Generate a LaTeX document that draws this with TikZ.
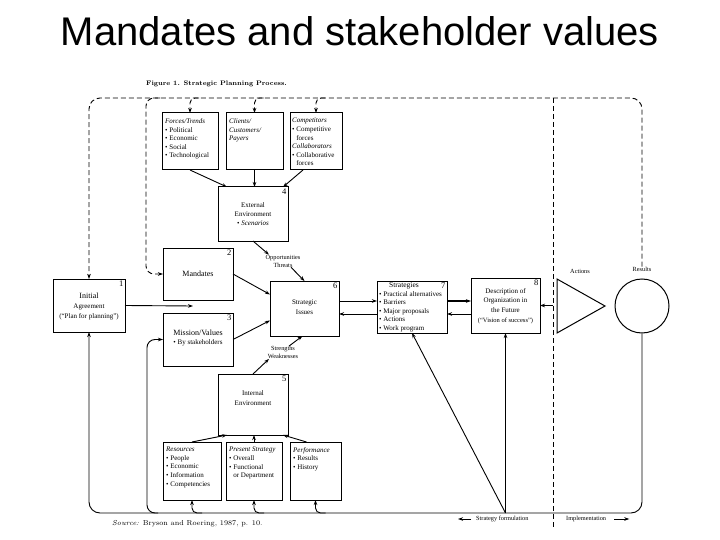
\documentclass[tikz,border=0pt]{standalone}
\usepackage{fontspec}
\newfontfamily\titlefont{Liberation Sans}
\newfontfamily\figserif{Liberation Serif}
\usetikzlibrary{arrows.meta,calc}
\begin{document}
\begin{tikzpicture}[x=1pt,y=-1pt,
  box/.style={draw,line width=1pt,inner sep=0pt,outer sep=0pt,anchor=north west},
  txt/.style={inner sep=0pt,align=left,anchor=north west,font=\figserif\fontsize{7}{8.6}\selectfont},
  ctxt/.style={inner sep=0pt,align=center,font=\figserif\fontsize{7}{9.5}\selectfont},
  num/.style={inner sep=1.5pt,anchor=north east,font=\figserif\fontsize{8.5}{8.5}\selectfont},
  lbl/.style={inner sep=0pt,align=center,font=\figserif\fontsize{6.3}{8}\selectfont},
  line/.style={line width=0.9pt},
  arr/.style={line width=0.9pt,-{Stealth[length=5pt,width=3.5pt]}},
  dsh/.style={line width=0.9pt,dash pattern=on 5pt off 3pt}]
\useasboundingbox (0,0) rectangle (720,540);
\fill[white] (0,0) rectangle (720,540);

% title
\node[anchor=base,inner sep=0pt,font=\titlefont\fontsize{40}{48}\selectfont] (title) at (360,46) {Mandates and stakeholder values};

\node[anchor=base west,inner sep=0pt,font=\bfseries\fontsize{6.6}{8}\selectfont] (fig) at (146,86) {Figure 1. Strategic Planning Process.};
\node[anchor=base west,inner sep=0pt,font=\fontsize{7.2}{8}\selectfont] (src) at (112,525) {\textit{Source:} Bryson and Roering, 1987, p. 10.};

% top boxes
\node[box,minimum width=56,minimum height=57] (ft) at (162,113) {};
\node[txt] (ftt) at (165,118.5) {\textit{Forces/Trends}\\\textbullet\ Political\\\textbullet\ Economic\\\textbullet\ Social\\\textbullet\ Technological};
\node[box,minimum width=57,minimum height=57] (cl) at (226,113) {};
\node[txt] (clt) at (229,118.5) {\textit{Clients/}\\\textit{Customers/}\\\textit{Payers}};
\node[box,minimum width=52,minimum height=57] (co) at (290,113) {};
\node[txt] (cot) at (292,118) {\textit{Competitors}\\\textbullet\ Competitive\\\phantom{\textbullet\ }forces\\\textit{Collaborators}\\\textbullet\ Collaborative\\\phantom{\textbullet\ }forces};

% external environment
\node[box,minimum width=70,minimum height=54] (ee) at (218,187) {};
\node[ctxt,font=\figserif\fontsize{7}{9}\selectfont] (eet) at (253,214) {External\\Environment\\\textbullet\ \textit{Scenarios}};
\node[num] (n4) at (ee.north east) {4};

% mandates
\node[box,minimum width=70,minimum height=52] (md) at (163,248) {};
\node[ctxt,font=\figserif\fontsize{8}{9}\selectfont] (mdt) at (md.center) {Mandates};
\node[num] (n2) at (md.north east) {2};

% mission
\node[box,minimum width=70,minimum height=53] (mv) at (163,313) {};
\node[ctxt] (mvt) at (198,338) {{\fontsize{8}{10}\selectfont Mission/Values}\\\textbullet\ By stakeholders};
\node[num] (n3) at (mv.north east) {3};

% initial agreement
\node[box,minimum width=72,minimum height=53] (ia) at (53,279) {};
\node[ctxt,font=\figserif\fontsize{7}{10}\selectfont] (iat) at (89,306) {{\fontsize{8}{10}\selectfont Initial}\\Agreement\\(“Plan for planning”)};
\node[num] (n1) at (ia.north east) {1};

% strategic issues
\node[box,minimum width=69,minimum height=55] (si) at (270,281) {};
\node[ctxt,font=\figserif\fontsize{7}{10}\selectfont] (sit) at (304.5,307.5) {Strategic\\Issues};
\node[num] (n6) at (si.north east) {6};

% internal environment
\node[box,minimum width=70,minimum height=61] (ie) at (218,374) {};
\node[ctxt,font=\figserif\fontsize{7}{10}\selectfont] (iet) at (253,398.5) {Internal\\Environment};
\node[num] (n5) at (ie.north east) {5};

% bottom boxes
\node[box,minimum width=58,minimum height=58] (rs) at (163,442) {};
\node[txt] (rst) at (166,447) {\textit{Resources}\\\textbullet\ People\\\textbullet\ Economic\\\textbullet\ Information\\\textbullet\ Competencies};
\node[box,minimum width=56,minimum height=58] (ps) at (226,442) {};
\node[txt] (pst) at (229,447) {\textit{Present Strategy}\\\textbullet\ Overall\\\textbullet\ Functional\\\phantom{\textbullet\ }or Department};
\node[box,minimum width=51,minimum height=58] (pf) at (290,442) {};
\node[txt] (pft) at (293,447) {\textit{Performance}\\\textbullet\ Results\\\textbullet\ History};

% strategies
\node[box,minimum width=70,minimum height=52] (st) at (377,281) {};
\node[inner sep=0pt,anchor=north,font=\figserif\fontsize{7.5}{8}\selectfont] (stt) at (404,282) {Strategies};
\node[txt,font=\figserif\fontsize{7}{8.5}\selectfont] (stl) at (379,291) {\textbullet\ Practical alternatives\\\textbullet\ Barriers\\\textbullet\ Major proposals\\\textbullet\ Actions\\\textbullet\ Work program};
\node[num] (n7) at (st.north east) {7};

% description of organization
\node[box,minimum width=69,minimum height=55] (df) at (471,278) {};
\node[ctxt,font=\figserif\fontsize{7}{9.7}\selectfont] (dft) at (505.5,306) {Description of\\Organization in\\the Future\\{\fontsize{6.5}{8}\selectfont (“Vision of success”)}};
\node[num] (n8) at (df.north east) {8};

% actions and results
\draw[line width=1pt] (557,279) -- (605,306) -- (557,333) -- cycle;
\node[draw,circle,line width=1pt,minimum size=54,inner sep=0pt] (res) at (642,306) {};

% labels
\node[lbl] (ot) at (283,261) {Opportunities\\Threats};
\node[lbl] (sw) at (283,352.5) {Strengths\\Weaknesses};
\node[lbl] (actl) at (580,271) {Actions};
\node[lbl] (resl) at (642,269) {Results};
\node[lbl,anchor=west] (sfl) at (476,519) {Strategy formulation};
\node[lbl,anchor=west] (iml) at (566,519) {Implementation};

% coordinates
\coordinate (ytop) at (0,98);
\coordinate (ybot) at (0,513);
\coordinate (sepT) at (553,98);
\coordinate (sepB) at (553,527);
\coordinate (jmd) at (160,98);
\coordinate (gap) at (193,306);
\coordinate (ya) at (0,301);
\coordinate (yb) at (0,314);
\coordinate (jb) at (df.south |- ybot);

% dashed feedback
\draw[dsh,rounded corners=11,-{Stealth[length=5pt,width=3.5pt]}] (resl.north) |- (ia.north |- ytop) -- (ia.north);
\draw[dsh,rounded corners=8,-{Stealth[length=5pt,width=3.5pt]}] (jmd) -| ($(md.west)+(-17,0)$) -- (md.west);
\draw[dsh,rounded corners=5,-{Stealth[length=5pt,width=3.5pt]}] ($(ft.north |- ytop)+(9,0)$) -| (ft.north);
\draw[dsh,rounded corners=5,-{Stealth[length=5pt,width=3.5pt]}] ($(cl.north |- ytop)+(9,0)$) -| (cl.north);
\draw[dsh,rounded corners=5,-{Stealth[length=5pt,width=3.5pt]}] ($(co.north |- ytop)+(9,0)$) -| (co.north);
\draw[dsh] (sepT) -- (sepB);
\draw[arr] (sepT |- df.east) -- (df.east);

% solid feedback
\draw[line,rounded corners=11,-{Stealth[length=5pt,width=3.5pt]}] (res.south) |- (ia.south |- ybot) -- (ia.south);
\draw[line,rounded corners=8,-{Stealth[length=5pt,width=3.5pt]}] ($(mv.west |- ybot)+(-5,0)$) -| ($(mv.west)+(-16,0)$) -- (mv.west);
\draw[line,rounded corners=5,-{Stealth[length=5pt,width=3.5pt]}] ($(rs.south |- ybot)+(10,0)$) -| (rs.south);
\draw[line,rounded corners=5,-{Stealth[length=5pt,width=3.5pt]}] ($(ps.south |- ybot)+(10,0)$) -| (ps.south);
\draw[line,rounded corners=5,-{Stealth[length=5pt,width=3.5pt]}] ($(pf.south |- ybot)+(10,0)$) -| (pf.south);

% into internal/external environment
\draw[arr] (rs.north) -- ($(ie.south west)+(9,0)$);
\draw[arr] (ps.north) -- (ps.north |- ie.south);
\draw[arr] ($(pf.north)+(-9,0)$) -- ($(ie.south east)+(-5,0)$);
\draw[arr] (ft.south) -- ($(ee.north west)+(9,0)$);
\draw[arr] (cl.south) -- (cl.south |- ee.north);
\draw[arr] ($(co.south)+(-13,0)$) -- ($(ee.north east)+(-5,0)$);

% to strategic issues
\draw[arr] (ee.south) -- ($(ot.north)+(-14,0)$);
\draw[arr] ($(ot.south)+(8,0)$) -- (si.north);
\draw[arr] (ie.north) -- ($(sw.south)+(-14,0)$);
\draw[arr] ($(sw.north)+(6,0)$) -- ($(si.south)+(-2,0)$);
\draw[arr] (md.east) -- ($(si.west)+(0,-14)$);
\draw[arr] (mv.east) -- ($(si.west)+(0,12)$);
\draw[arr] (ia.east) -- (gap);

% issues <-> strategies <-> description
\draw[arr] (si.east |- ya) -- (st.west |- ya);
\draw[arr] (st.west |- yb) -- (si.east |- yb);
\draw[arr,line width=1.2pt] (st.east |- ya) -- (df.west |- ya);
\draw[arr] (df.west |- yb) -- (st.east |- yb);
\draw[arr] (jb) -- (df.south);
\draw[arr] (jb) -- (st.south);

% phase arrows
\draw[arr] ($(sfl.west)+(-5,0)$) -- ++(-13,0);
\draw[arr] ($(iml.east)+(8,0)$) -- ++(15,0);
\end{tikzpicture}
\end{document}
